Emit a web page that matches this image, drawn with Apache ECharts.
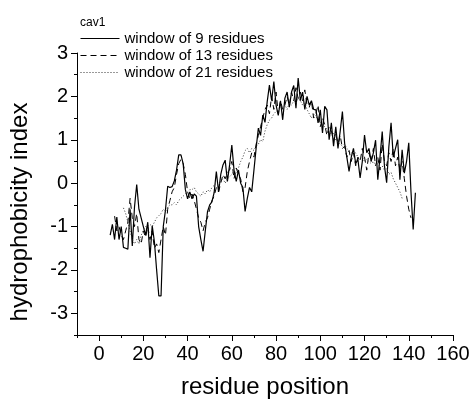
<!DOCTYPE html>
<html>
<head>
<meta charset="utf-8">
<script src="https://cdn.jsdelivr.net/npm/echarts@6/dist/echarts.min.js"></script>
<style>html,body{margin:0;padding:0;background:#fff}#c{width:474px;height:405px}</style>
</head>
<body>
<div id="c"></div>
<script>
// residue positions start values
var w9Start = 5, w13Start = 7, w21Start = 11;
var w9 = [-1.2,-0.95,-1.3,-0.78,-1.3,-1.0,-1.48,-1.5,-1.52,-0.6,-1.45,-0.55,-0.03,-0.6,-0.8,-1.0,-1.2,-0.9,-1.72,-0.98,-1.35,-2.0,-2.6,-2.6,-1.0,-0.62,-0.07,-0.1,-0.08,0.05,0.3,0.65,0.65,0.45,-0.15,-0.36,-0.2,-0.36,-0.25,-0.3,-1.0,-1.3,-1.57,-1.1,-0.66,-0.5,-0.43,-0.22,0.27,-0.2,0.2,0.42,0.53,0.04,0.42,0.88,0.3,0.04,0.3,0.0,-0.1,-0.65,-0.35,-0.1,-0.2,0.3,0.81,1.27,1.1,1.57,1.4,1.88,2.26,1.9,2.34,1.8,1.56,1.9,1.46,1.96,2.1,1.75,2.1,2.25,1.73,2.42,1.9,2.1,1.7,2.0,1.8,1.9,1.7,1.69,1.39,1.69,1.16,1.77,1.69,1.0,1.39,0.85,1.3,0.8,1.2,1.65,0.92,0.6,0.27,0.6,0.8,0.45,0.55,0.12,0.5,1.11,0.7,0.8,0.5,0.7,0.99,0.08,0.6,1.19,0.4,0.01,0.84,1.39,0.6,0.8,1.0,0.08,0.77,0.23,0.5,0.93,-0.2,-1.07,-0.22];
var w13 = [-0.76,-1.1,-1.0,-1.2,-1.3,-1.1,-0.9,-0.35,-0.8,-1.0,-0.7,-1.3,-1.4,-1.1,-1.25,-1.0,-1.3,-1.1,-1.5,-1.4,-1.6,-1.3,-1.0,-1.2,-0.6,-0.4,-0.2,-0.1,0.2,0.45,0.55,0.45,0.2,-0.2,-0.35,-0.25,-0.4,-0.6,-0.8,-0.9,-1.1,-0.9,-0.8,-0.6,-0.4,-0.3,-0.1,-0.2,0.0,0.2,0.1,0.25,0.3,0.5,0.1,0.35,0.2,0.1,-0.2,-0.1,0.27,0.5,0.7,0.6,0.9,1.1,1.3,1.5,1.7,1.8,1.6,2.0,1.7,2.1,1.6,1.9,1.7,1.8,2.0,1.8,2.1,1.9,2.2,1.95,2.1,1.9,2.15,1.8,1.75,1.9,1.5,1.6,1.8,1.3,1.5,1.35,1.1,1.3,1.2,1.0,1.15,0.9,1.1,0.8,0.85,0.6,0.75,0.5,0.7,0.4,0.6,0.5,0.8,0.6,0.3,0.7,0.5,0.8,0.4,0.6,0.3,0.9,0.5,0.4,0.7,0.5,0.8,0.4,0.6,0.3,0.5,0.1,-0.3,-0.6,-0.8];
var w21 = [-0.57,-0.7,-0.9,-1.1,-1.3,-1.4,-1.3,-1.4,-1.2,-1.1,-1.0,-1.0,-0.95,-1.0,-0.9,-0.8,-0.75,-0.7,-0.6,-0.65,-0.55,-0.5,-0.5,-0.45,-0.5,-0.4,-0.35,-0.3,-0.25,-0.2,-0.15,-0.15,-0.1,-0.2,-0.25,-0.3,-0.2,-0.25,-0.15,-0.2,-0.1,-0.05,0.0,-0.05,0.05,0.1,0.0,0.1,0.15,0.2,0.3,0.25,0.35,0.5,0.6,0.75,0.8,0.7,0.8,0.75,0.85,0.9,1.0,0.96,1.2,1.35,1.45,1.5,1.6,1.65,1.7,1.75,1.7,1.8,1.7,1.85,1.8,1.9,1.85,1.95,1.9,1.8,1.85,1.7,1.6,1.5,1.6,1.55,1.45,1.4,1.35,1.3,1.25,1.2,1.1,1.15,1.0,0.95,0.9,0.85,0.9,0.8,0.75,0.7,0.65,0.7,0.6,0.55,0.6,0.5,0.55,0.5,0.45,0.5,0.4,0.45,0.35,0.4,0.3,0.35,0.2,0.25,0.1,0.0,-0.1,-0.2,-0.35];
var xMajorTicks = [0,20,40,60,80,100,120,140,160];
var yMajorTicks = [-3,-2,-1,0,1,2,3];
var seriesNames = ['window of 9 residues','window of 13 residues','window of 21 residues'];

function pairs(start, vals){ return vals.map(function(v,i){ return [start+i, v]; }); }

var chart = echarts.init(document.getElementById('c'), null, {renderer:'canvas'});
var font = 'Liberation Sans, Arial, sans-serif';
var axisLine = {show:true, onZero:false, lineStyle:{color:'#000', width:1}};
chart.setOption({
  animation:false,
  title:{text:'cav1', left:75, top:12, textStyle:{fontFamily:font, fontSize:12, fontWeight:'normal', color:'#000'}},
  legend:{orient:'vertical', left:75, top:26, itemWidth:39, itemHeight:10, itemGap:2,
    itemStyle:{opacity:0}, lineStyle:{width:1},
    textStyle:{fontFamily:font, fontSize:15, color:'#000'}, data:seriesNames},
  grid:{left:73, right:21, top:53, bottom:70, containLabel:false},
  xAxis:[
    {type:'value', min:-10, max:160, interval:10, axisLine:axisLine,
     axisTick:{show:true, length:3, inside:false, lineStyle:{color:'#000'}},
     axisLabel:{show:false}, splitLine:{show:false},
     name:'residue position', nameLocation:'middle', nameGap:40,
     nameTextStyle:{fontFamily:font, fontSize:24, color:'#000'}},
    {type:'value', min:-10, max:160, position:'bottom', axisLine:{show:false, onZero:false},
     axisTick:{show:true, length:6, customValues:xMajorTicks, lineStyle:{color:'#000'}},
     axisLabel:{show:true, customValues:xMajorTicks, margin:9, fontFamily:font, fontSize:20, color:'#000'},
     splitLine:{show:false}}
  ],
  yAxis:[
    {type:'value', min:-3.5, max:3, interval:0.5, axisLine:axisLine,
     axisTick:{show:true, length:3, lineStyle:{color:'#000'}},
     axisLabel:{show:false}, splitLine:{show:false},
     name:'hydrophobicity index', nameLocation:'middle', nameGap:45,
     nameTextStyle:{fontFamily:font, fontSize:24, color:'#000', padding:[0,36,0,0]}},
    {type:'value', min:-3.5, max:3, position:'left', axisLine:{show:false, onZero:false},
     axisTick:{show:true, length:6, customValues:yMajorTicks, lineStyle:{color:'#000'}},
     axisLabel:{show:true, customValues:yMajorTicks, margin:9, fontFamily:font, fontSize:20, color:'#000'},
     splitLine:{show:false}}
  ],
  series:[
    {name:seriesNames[0], type:'line', data:pairs(w9Start,w9), symbol:'none', color:'#000',
     lineStyle:{color:'#000', width:1.2, type:'solid'}},
    {name:seriesNames[1], type:'line', data:pairs(w13Start,w13), symbol:'none', color:'#000',
     lineStyle:{color:'#000', width:1, type:[6,4]}},
    {name:seriesNames[2], type:'line', data:pairs(w21Start,w21), symbol:'none', color:'#333',
     lineStyle:{color:'#333', width:1, type:[1,2]}}
  ]
});
</script>
</body>
</html>
